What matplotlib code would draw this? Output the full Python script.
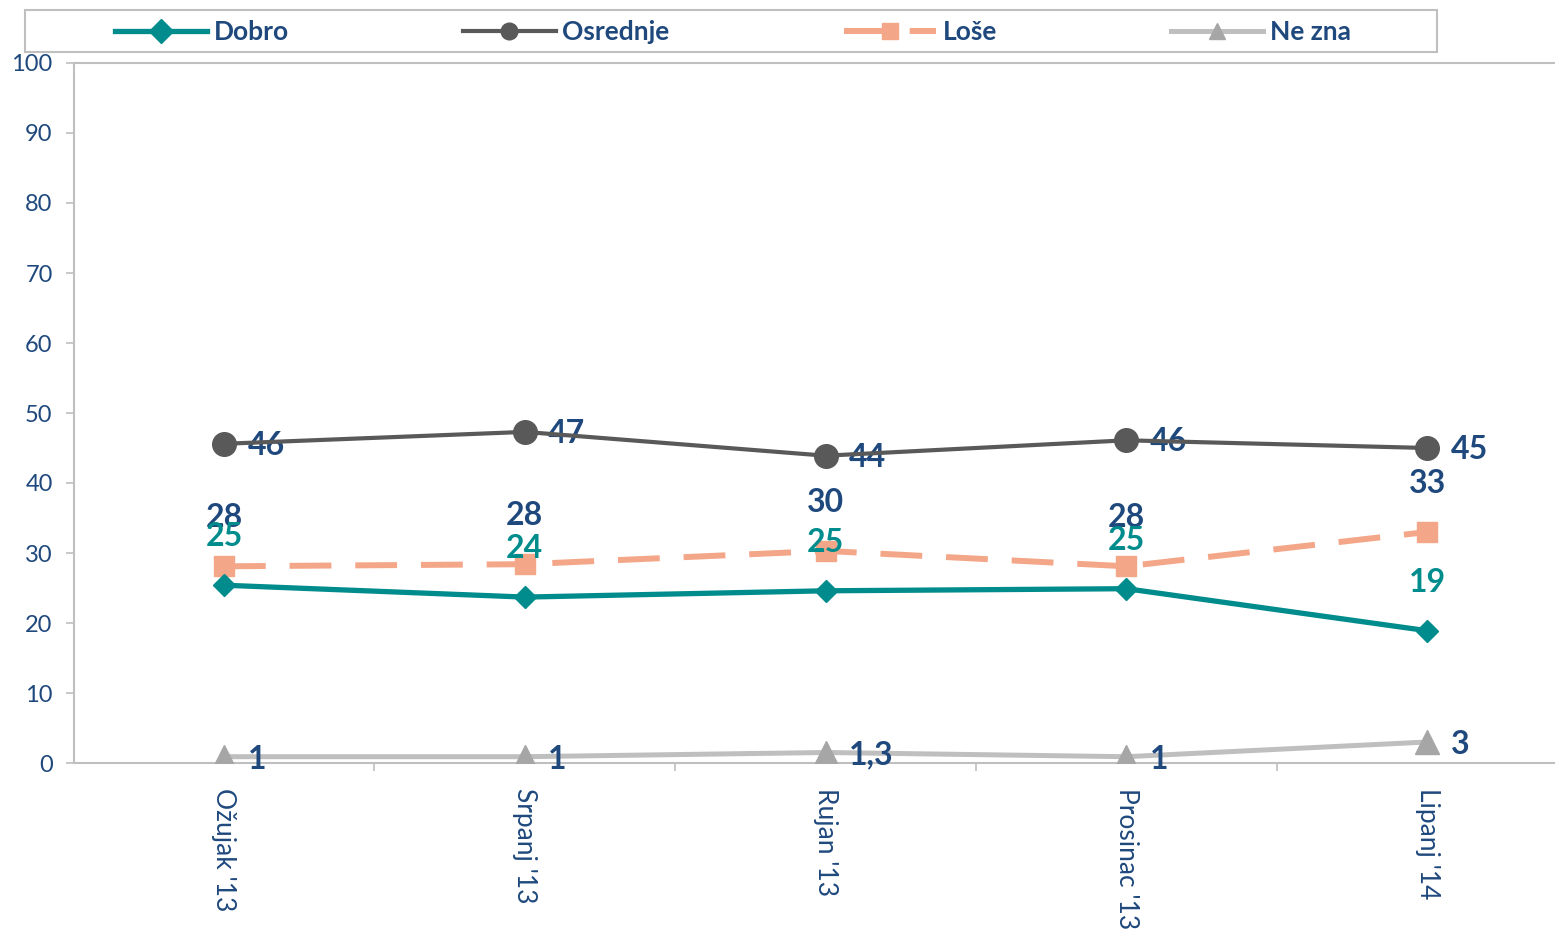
import numpy as np
import matplotlib.pyplot as plt
from matplotlib.ticker import FixedLocator
from matplotlib.patches import Rectangle

# Podaci
mjeseci = ["Ožujak '13", "Srpanj '13", "Rujan '13", "Prosinac '13", "Lipanj '14"]
dobro = [25.4, 23.7, 24.6, 24.9, 18.9]
osrednje = [45.6, 47.3, 43.9, 46.1, 45.0]
lose = [28.1, 28.4, 30.3, 28.1, 33.0]
ne_zna = [0.9, 0.9, 1.5, 0.9, 3.0]

dobro_lbl = ['25', '24', '25', '25', '19']
osrednje_lbl = ['46', '47', '44', '46', '45']
lose_lbl = ['28', '28', '30', '28', '33']
ne_zna_lbl = ['1', '1', '1,3', '1', '3']

# Boje
c_dobro = '#008C8C'
c_osr = '#595959'
c_lose = '#F4A688'
c_nz = '#BFBFBF'
c_nz_m = '#A6A6A6'
c_txt = '#1F497D'
c_os = '#BFBFBF'

plt.rcParams['font.family'] = ['Lato', 'DejaVu Sans']

fig = plt.figure(figsize=(15.55, 9.43), dpi=100, facecolor='white')
ax = fig.add_axes([73.5 / 1555, 180 / 943, 1504 / 1555, 700 / 943])

x = np.arange(len(mjeseci))

l1, = ax.plot(x, dobro, color=c_dobro, lw=3.8, marker='D', ms=11,
              label='Dobro', zorder=4)
l2, = ax.plot(x, osrednje, color=c_osr, lw=3.0, marker='o', ms=17,
              label='Osrednje', zorder=4)
l3, = ax.plot(x, lose, color=c_lose, lw=4.3, marker='s', ms=14,
              dashes=(7, 4), label='Loše', zorder=3)
l4, = ax.plot(x, ne_zna, color=c_nz, lw=3.6, marker='^', ms=17,
              mfc=c_nz_m, mec=c_nz_m, label='Ne zna', zorder=3)

# Oznake podataka
fs = 23
for i in range(len(x)):
    ax.annotate(osrednje_lbl[i], (x[i], osrednje[i]), xytext=(17, -1),
                textcoords='offset points', ha='left', va='center',
                fontsize=fs, fontweight='bold', color=c_txt)
    ax.annotate(ne_zna_lbl[i], (x[i], ne_zna[i]), xytext=(17, -2),
                textcoords='offset points', ha='left', va='center',
                fontsize=fs, fontweight='bold', color=c_txt)
    ax.annotate(lose_lbl[i], (x[i], lose[i]), xytext=(0, 35),
                textcoords='offset points', ha='center', va='center',
                fontsize=fs, fontweight='bold', color=c_txt)
    ax.annotate(dobro_lbl[i], (x[i], dobro[i]), xytext=(0, 35),
                textcoords='offset points', ha='center', va='center',
                fontsize=fs, fontweight='bold', color=c_dobro)

# Osi
ax.set_xlim(-0.5, len(x) - 0.5)
ax.set_ylim(0, 100)
ax.set_yticks(np.arange(0, 101, 10))
ax.set_xticks(x)
ax.set_xticklabels(mjeseci, rotation=270, ha='center', va='top')
ax.xaxis.set_minor_locator(FixedLocator(np.arange(0.5, len(x) - 0.5, 1)))
ax.tick_params(axis='x', which='major', length=0, pad=18,
               labelsize=19, labelcolor=c_txt)
ax.tick_params(axis='x', which='minor', length=6, width=1.2, color=c_os)
ax.tick_params(axis='y', length=6, width=1.2, color=c_os, pad=9,
               labelsize=17, labelcolor=c_txt)
for s in ['left', 'bottom', 'top']:
    ax.spines[s].set_color(c_os)
    ax.spines[s].set_linewidth(1.5)
ax.spines['right'].set_visible(False)

# Legenda
okvir = Rectangle((25 / 1555, 891 / 943), 1412 / 1555, 42 / 943,
                  transform=fig.transFigure, fill=False, edgecolor=c_os,
                  linewidth=1.5)
fig.add_artist(okvir)
leg = fig.legend(handles=[l1, l2, l3, l4], ncol=4,
                 bbox_to_anchor=(733 / 1555, 911 / 943),
                 loc='center', frameon=False, fontsize=19,
                 handlelength=3.5, handletextpad=0.25, columnspacing=6.6,
                 borderaxespad=0, borderpad=0)
for t in leg.get_texts():
    t.set_color(c_txt)
    t.set_fontweight('bold')
for h in leg.legend_handles:
    h.set_markersize(12)

fig.savefig('out.png', dpi=100, facecolor='white')
